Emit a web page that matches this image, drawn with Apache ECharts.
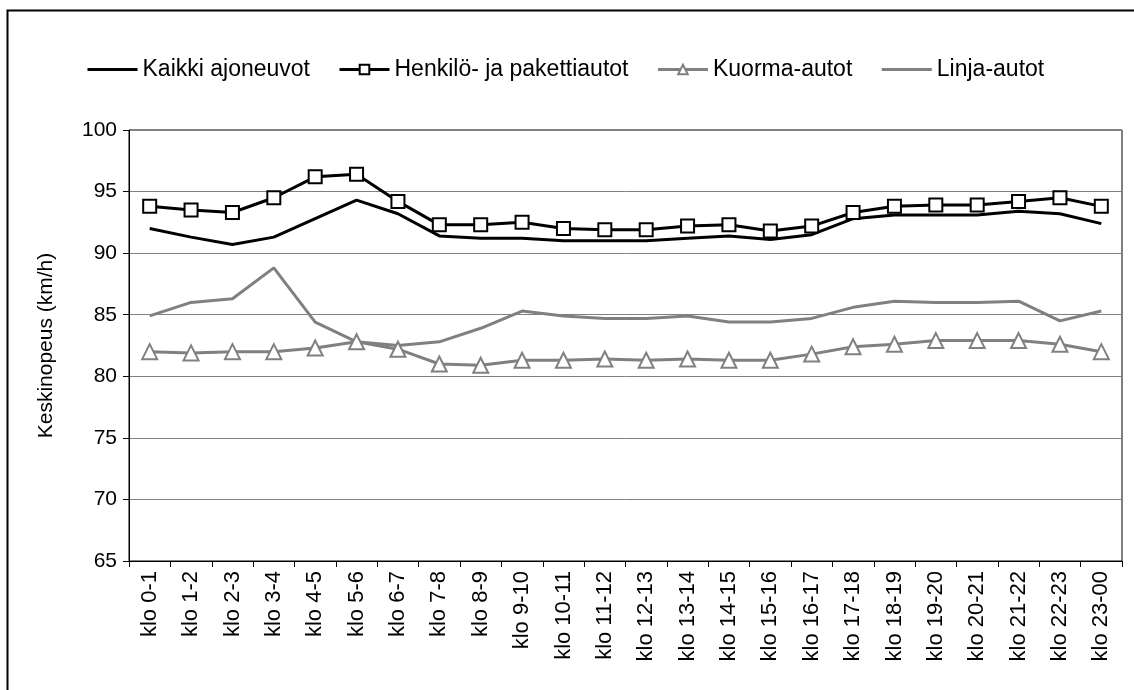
<!DOCTYPE html>
<html lang="fi">
<head>
    <meta charset="UTF-8">
    <title>Keskinopeus kellonajoittain</title>
    <script src="https://cdn.jsdelivr.net/npm/echarts@6/dist/echarts.min.js"></script>
    <style>
        html, body { margin: 0; padding: 0; background: #fff; }
        #chart { width: 1134px; height: 690px; }
    </style>
</head>
<body>
    <div id="chart"></div>
    <script>
        // Tunnit
        const hours = ['klo 0-1', 'klo 1-2', 'klo 2-3', 'klo 3-4', 'klo 4-5', 'klo 5-6', 'klo 6-7', 'klo 7-8',
            'klo 8-9', 'klo 9-10', 'klo 10-11', 'klo 11-12', 'klo 12-13', 'klo 13-14', 'klo 14-15', 'klo 15-16',
            'klo 16-17', 'klo 17-18', 'klo 18-19', 'klo 19-20', 'klo 20-21', 'klo 21-22', 'klo 22-23', 'klo 23-00'];

        // Keskinopeudet (km/h)
        const kaikki = [92.0, 91.3, 90.7, 91.3, 92.8, 94.3, 93.2, 91.4, 91.2, 91.2, 91.0, 91.0,
            91.0, 91.2, 91.4, 91.1, 91.5, 92.8, 93.1, 93.1, 93.1, 93.4, 93.2, 92.4];
        const henkilo = [93.8, 93.5, 93.3, 94.5, 96.2, 96.4, 94.2, 92.3, 92.3, 92.5, 92.0, 91.9,
            91.9, 92.2, 92.3, 91.8, 92.2, 93.3, 93.8, 93.9, 93.9, 94.2, 94.5, 93.8];
        const kuorma = [82.0, 81.9, 82.0, 82.0, 82.3, 82.8, 82.2, 81.0, 80.9, 81.3, 81.3, 81.4,
            81.3, 81.4, 81.3, 81.3, 81.8, 82.4, 82.6, 82.9, 82.9, 82.9, 82.6, 82.0];
        const linja = [84.9, 86.0, 86.3, 88.8, 84.4, 82.8, 82.5, 82.8, 83.9, 85.3, 84.9, 84.7,
            84.7, 84.9, 84.4, 84.4, 84.7, 85.6, 86.1, 86.0, 86.0, 86.1, 84.5, 85.3];

        const yTicks = { min: 65, max: 100, step: 5 };

        const chart = echarts.init(document.getElementById('chart'));
        const font = 'Arial, "Liberation Sans", sans-serif';

        const option = {
            animation: false,
            textStyle: { fontFamily: font, color: '#000' },
            graphic: [{
                type: 'rect',
                shape: { x: 7.5, y: 10.5, width: 1140, height: 700 },
                style: { fill: 'none', stroke: '#000', lineWidth: 2 },
                silent: true
            }],
            legend: {
                left: 81,
                top: 53,
                itemWidth: 50,
                itemHeight: 12,
                itemGap: 28,
                lineStyle: { width: 3 },
                textStyle: { fontSize: 23, color: '#000', fontFamily: font },
                data: [
                    { name: 'Kaikki ajoneuvot', itemStyle: { opacity: 0 } },
                    { name: 'Henkilö- ja pakettiautot' },
                    { name: 'Kuorma-autot' },
                    { name: 'Linja-autot', itemStyle: { opacity: 0 } }
                ]
            },
            grid: {
                left: 129,
                right: 12,
                top: 130,
                bottom: 129,
                show: true,
                borderColor: '#000',
                borderWidth: 1
            },
            xAxis: {
                type: 'category',
                data: hours,
                boundaryGap: true,
                axisLine: { lineStyle: { color: '#000', width: 1 } },
                axisTick: { show: true, length: 6, lineStyle: { color: '#000' } },
                axisLabel: { rotate: 90, interval: 0, fontSize: 22, color: '#000', margin: 10, fontFamily: font }
            },
            yAxis: {
                type: 'value',
                min: yTicks.min,
                max: yTicks.max,
                interval: yTicks.step,
                name: 'Keskinopeus (km/h)',
                nameLocation: 'middle',
                nameRotate: 90,
                nameGap: 72,
                nameTextStyle: { fontSize: 21, color: '#000', fontFamily: font },
                axisLine: { show: true, lineStyle: { color: '#000', width: 1 } },
                axisTick: { show: true, length: 6, lineStyle: { color: '#000' } },
                axisLabel: { fontSize: 21, color: '#000', margin: 12, fontFamily: font },
                splitLine: { lineStyle: { color: '#808080', width: 1 } }
            },
            series: [
                {
                    name: 'Kaikki ajoneuvot',
                    type: 'line',
                    data: kaikki,
                    symbol: 'none',
                    lineStyle: { color: '#000', width: 3 },
                    itemStyle: { color: '#000' },
                    z: 4
                },
                {
                    name: 'Henkilö- ja pakettiautot',
                    type: 'line',
                    data: henkilo,
                    symbol: 'rect',
                    symbolSize: 13,
                    lineStyle: { color: '#000', width: 3 },
                    itemStyle: { color: '#fff', borderColor: '#000', borderWidth: 2 },
                    z: 5
                },
                {
                    name: 'Kuorma-autot',
                    type: 'line',
                    data: kuorma,
                    symbol: 'triangle',
                    symbolSize: 15,
                    lineStyle: { color: '#808080', width: 3 },
                    itemStyle: { color: '#fff', borderColor: '#808080', borderWidth: 2 },
                    z: 3
                },
                {
                    name: 'Linja-autot',
                    type: 'line',
                    data: linja,
                    symbol: 'none',
                    lineStyle: { color: '#808080', width: 3 },
                    itemStyle: { color: '#808080' },
                    z: 2
                }
            ]
        };

        chart.setOption(option);
    </script>
</body>
</html>
